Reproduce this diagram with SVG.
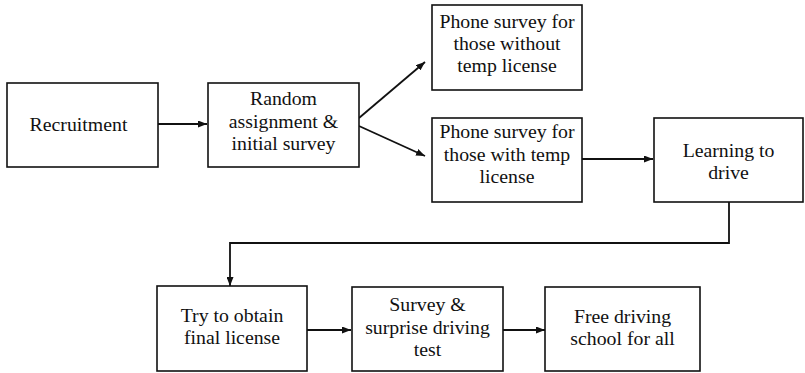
<svg xmlns="http://www.w3.org/2000/svg" width="805" height="373" viewBox="0 0 805 373">
<style>
.box{fill:#fff;stroke:#111;stroke-width:1.6}
.t{font-family:"Liberation Serif","Times New Roman",serif;font-size:19.8px;fill:#111;text-anchor:middle}
.c{fill:none;stroke:#111;stroke-width:1.8}
</style>
<defs>
<marker id="ah" markerUnits="userSpaceOnUse" markerWidth="9" markerHeight="7" refX="9" refY="3.5" orient="auto">
<path d="M0,0 L9,3.5 L0,7 z" fill="#111"/>
</marker>
</defs>
<rect width="805" height="373" fill="#fff"/>
<g id="connectors">
<line class="c" x1="158" y1="124" x2="207" y2="124" marker-end="url(#ah)"/>
<line class="c" x1="359" y1="118" x2="425" y2="62" marker-end="url(#ah)"/>
<line class="c" x1="359" y1="126" x2="425" y2="156" marker-end="url(#ah)"/>
<line class="c" x1="582" y1="159" x2="653" y2="159" marker-end="url(#ah)"/>
<polyline class="c" points="729,202 729,243 230,243 230,286" marker-end="url(#ah)"/>
<line class="c" x1="307" y1="330" x2="351" y2="330" marker-end="url(#ah)"/>
<line class="c" x1="503" y1="330" x2="545" y2="330" marker-end="url(#ah)"/>
</g>
<g id="recruitment">
<rect class="box" x="7" y="83" width="151" height="84"/>
<text class="t" x="78.5" y="131">Recruitment</text>
</g>
<g id="random">
<rect class="box" x="208" y="83" width="151" height="84"/>
<text class="t" x="283.5" y="105">Random</text>
<text class="t" x="283.5" y="128">assignment &amp;</text>
<text class="t" x="283.5" y="150">initial survey</text>
</g>
<g id="phone-without">
<rect class="box" x="432" y="5" width="150" height="85"/>
<text class="t" x="507" y="28">Phone survey for</text>
<text class="t" x="507" y="50">those without</text>
<text class="t" x="507" y="72">temp license</text>
</g>
<g id="phone-with">
<rect class="box" x="432" y="118" width="150" height="84"/>
<text class="t" x="507" y="138">Phone survey for</text>
<text class="t" x="507" y="161">those with temp</text>
<text class="t" x="507" y="183">license</text>
</g>
<g id="learning">
<rect class="box" x="654" y="118" width="149" height="84"/>
<text class="t" x="728.5" y="157">Learning to</text>
<text class="t" x="728.5" y="179">drive</text>
</g>
<g id="try">
<rect class="box" x="157" y="286" width="150" height="85"/>
<text class="t" x="232" y="322">Try to obtain</text>
<text class="t" x="232" y="344">final license</text>
</g>
<g id="survey">
<rect class="box" x="352" y="287" width="151" height="84"/>
<text class="t" x="427.5" y="311">Survey &amp;</text>
<text class="t" x="427.5" y="334">surprise driving</text>
<text class="t" x="427.5" y="356">test</text>
</g>
<g id="free">
<rect class="box" x="545" y="287" width="155" height="84"/>
<text class="t" x="622.5" y="323">Free driving</text>
<text class="t" x="622.5" y="345">school for all</text>
</g>
</svg>
